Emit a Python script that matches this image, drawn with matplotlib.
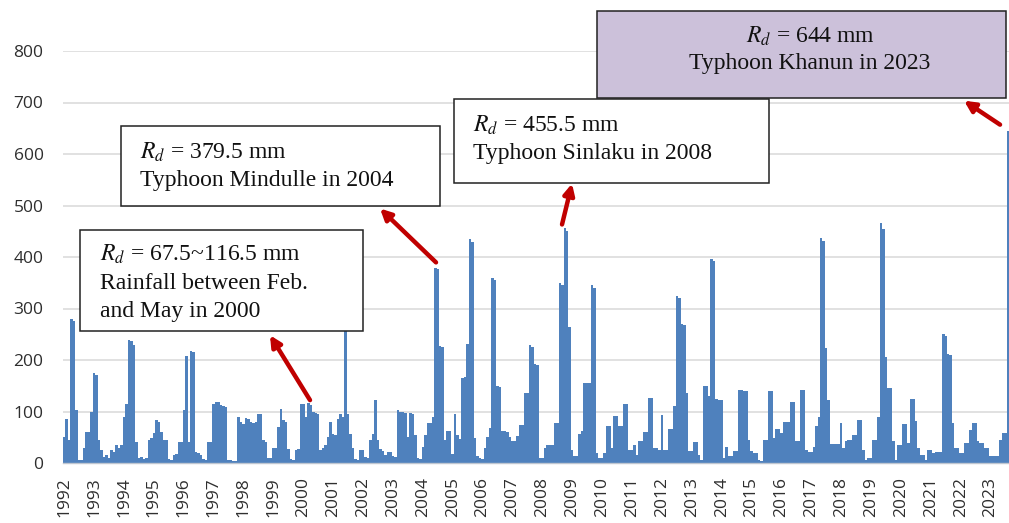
import matplotlib
matplotlib.use("Agg")
import matplotlib.pyplot as plt
from matplotlib.patches import Rectangle, FancyArrowPatch
import numpy as np

plt.rcParams["mathtext.fontset"] = "stix"

years = list(range(1992, 2024))

# monthly R_d (mm), Jan 1992 .. Aug 2023, one row per year
rainfall = [
    50, 85, 45, 280, 275, 103, 5, 5, 30, 60, 60, 100,        # 1992
    175, 170, 45, 25, 12, 15, 10, 25, 22, 35, 30, 35,        # 1993
    90, 115, 238, 236, 230, 40, 10, 12, 8, 10, 45, 48,       # 1994
    58, 83, 80, 60, 45, 45, 8, 5, 15, 18, 40, 40,            # 1995
    103, 207, 40, 218, 215, 22, 20, 15, 8, 5, 40, 40,        # 1996
    115, 118, 118, 112, 110, 108, 5, 5, 3, 4, 90, 80,        # 1997
    75, 88, 85, 80, 78, 80, 95, 96, 44, 40, 10, 10,          # 1998
    30, 30, 70, 105, 83, 80, 28, 7, 5, 25, 28, 115,          # 1999
    115, 90, 116.5, 112, 100, 98, 95, 25, 30, 35, 50, 80,    # 2000
    57, 55, 85, 95, 90, 300, 95, 57, 30, 8, 5, 25,           # 2001
    25, 12, 10, 45, 57, 123, 45, 28, 24, 16, 21, 21,         # 2002
    13, 12, 102, 100, 99, 97, 50, 97, 95, 55, 10, 8,         # 2003
    32, 55, 77, 77, 90, 379.5, 377, 228, 226, 45, 63, 63,    # 2004
    18, 95, 55, 47, 165, 167, 232, 435, 430, 48, 13, 10,     # 2005
    8, 29, 50, 68, 360, 355, 150, 148, 63, 63, 60, 50,       # 2006
    43, 43, 52, 74, 74, 135, 135, 229, 225, 192, 190, 10,    # 2007
    10, 29, 34, 34, 35, 77, 77, 350, 346, 455.5, 450, 265,   # 2008
    26, 13, 13, 56, 63, 155, 155, 155, 345, 340, 19, 10,     # 2009
    10, 19, 71, 71, 30, 92, 92, 72, 72, 115, 115, 26,        # 2010
    26, 34, 16, 43, 43, 61, 61, 126, 126, 29, 29, 26,        # 2011
    94, 26, 26, 66, 66, 110, 324, 320, 270, 268, 135, 23,    # 2012
    23, 41, 41, 16, 6, 150, 150, 130, 397, 392, 125, 123,    # 2013
    123, 10, 32, 13, 13, 23, 23, 142, 142, 139, 139, 45,     # 2014
    23, 19, 19, 6, 3, 45, 45, 139, 139, 48, 66, 66,          # 2015
    58, 79, 79, 79, 119, 119, 42, 42, 141, 141, 26, 21,      # 2016
    21, 32, 71, 90, 437, 432, 223, 123, 37, 37, 37, 37,      # 2017
    77, 29, 42, 45, 45, 55, 55, 84, 84, 26, 6, 10,           # 2018
    10, 45, 45, 90, 466, 455, 206, 145, 145, 42, 6, 35,      # 2019
    35, 75, 75, 39, 124, 124, 82, 30, 16, 16, 6, 26,         # 2020
    26, 19, 21, 21, 21, 250, 246, 212, 210, 77, 29, 29,      # 2021
    19, 19, 39, 39, 65, 77, 77, 42, 39, 39, 29, 29,          # 2022
    13, 13, 13, 13, 45, 58, 58, 644,                         # 2023
]

event_lines = [
    [r"$R_d$ = 67.5~116.5 mm", "Rainfall between Feb.", "and May in 2000"],
    [r"$R_d$ = 379.5 mm", "Typhoon Mindulle in 2004"],
    [r"$R_d$ = 455.5 mm", "Typhoon Sinlaku in 2008"],
    [r"$R_d$ = 644 mm", "Typhoon Khanun in 2023"],
]

W, H = 1009, 523
fig = plt.figure(figsize=(W / 100, H / 100), dpi=100)
ax = fig.add_axes([63 / W, 1 - 463 / H, (W - 63) / W, (463 - 51) / H])

x = np.arange(len(rainfall))
ax.bar(x, rainfall, width=1.0, color="#4f81bd", linewidth=0, zorder=2)

ax.set_xlim(-0.5, 379.4)
ax.set_ylim(0, 800)
ax.set_yticks(range(0, 801, 100))
ax.set_xticks([12 * i for i in range(len(years))])
ax.set_xticklabels([str(y) for y in years], rotation=90)
ax.tick_params(axis="both", length=0, labelsize=12.5, labelcolor="#2e2e2e")
ax.tick_params(axis="y", pad=14)
ax.tick_params(axis="x", pad=10)
for lab in ax.get_xticklabels() + ax.get_yticklabels():
    lab.set_fontfamily("Open Sans")
ax.grid(axis="y", color="#d9d9d9", linewidth=1.1, zorder=0)
ax.set_axisbelow(True)
for s in ["top", "right", "left"]:
    ax.spines[s].set_visible(False)
ax.spines["bottom"].set_color("#bfc6d0")
ax.spines["bottom"].set_linewidth(1.0)


# pixel -> data helpers (for placing the call-out boxes)
def px(xp):
    return (xp - 64.25) / 2.49


def py(yp):
    return (463 - yp) / 0.516


serif = "Liberation Serif"
boxes = [
    (80, 363, 230, 331, "white"),
    (121, 440, 125, 206, "white"),
    (454, 769, 98, 182, "white"),
    (597, 1006, 10, 97, "#ccc1da"),
]
for (x0, x1, y0, y1, fc) in boxes:
    r = Rectangle((px(x0), py(y1)), px(x1) - px(x0), py(y0) - py(y1),
                  facecolor=fc, edgecolor="#222222", linewidth=1.1,
                  clip_on=False, zorder=5)
    ax.add_patch(r)

text_pos = [
    (100, [254, 283, 311], "left"),
    (140, [152, 180], "left"),
    (473, [125, 153], "left"),
    (810, [36, 63], "center"),
]
for lines, (tx, tys, ha) in zip(event_lines, text_pos):
    for line, ty in zip(lines, tys):
        ax.text(px(tx), py(ty), line, fontsize=17, family=serif, ha=ha,
                va="center", color="#111111", clip_on=False, zorder=6)

# red arrows from the bars to the boxes
arrow_tail = [(310, 400), (436, 262), (562, 224), (1000, 124)]
arrow_head = [(270, 335), (380, 208), (572, 183), (964, 100)]
for (ax0, ay0), (ax1, ay1) in zip(arrow_tail, arrow_head):
    a = FancyArrowPatch((px(ax0), py(ay0)), (px(ax1), py(ay1)),
                        arrowstyle="-|>", mutation_scale=16, linewidth=3.2,
                        color="#c00000", clip_on=False, zorder=7,
                        shrinkA=0, shrinkB=0)
    ax.add_patch(a)

fig.savefig("out.png", dpi=100)
